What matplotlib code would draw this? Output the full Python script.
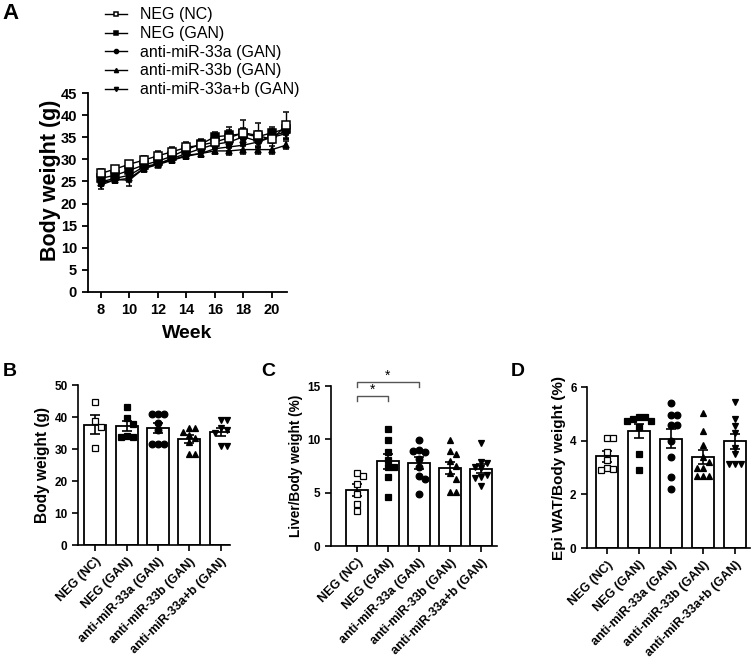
import numpy as np
import matplotlib.pyplot as plt

plt.rcParams['font.family'] = ['Liberation Sans', 'DejaVu Sans']

# ---------------- data ----------------
groups = ["NEG (NC)", "NEG (GAN)", "anti-miR-33a (GAN)", "anti-miR-33b (GAN)", "anti-miR-33a+b (GAN)"]
markers = ["s", "s", "o", "^", "v"]
filled = [False, True, True, True, True]

weeks = list(range(8, 22))
bw_nc = [26.8, 27.8, 28.9, 29.8, 30.8, 31.7, 32.7, 33.2, 33.9, 34.9, 36.0, 35.4, 34.5, 37.7]
bw_gan = [25.7, 26.4, 27.5, 28.7, 29.6, 30.7, 32.2, 33.4, 35.1, 35.4, 35.8, 35.1, 36.0, 36.9]
bw_33a = [24.9, 25.7, 26.4, 28.3, 29.0, 30.2, 31.3, 32.4, 33.4, 33.9, 35.1, 34.1, 35.2, 36.3]
bw_33b = [24.7, 25.3, 25.7, 27.9, 28.8, 29.8, 30.7, 31.3, 31.9, 31.9, 32.2, 32.2, 32.2, 33.2]
bw_33ab = [24.2, 25.4, 25.3, 27.9, 29.0, 29.9, 30.9, 31.3, 32.4, 32.8, 33.2, 33.9, 35.0, 35.8]
sem_nc = [0.9, 0.8, 0.8, 0.9, 1.0, 1.1, 1.2, 1.3, 1.4, 2.3, 2.8, 2.8, 2.4, 3.0]
sem_gan = [0.8, 0.7, 0.8, 0.7, 0.8, 0.8, 0.9, 1.0, 1.1, 1.2, 1.3, 1.3, 1.4, 1.5]
sem_33a = [0.8, 0.7, 0.9, 0.7, 0.7, 0.7, 0.8, 0.9, 1.0, 1.1, 1.2, 1.2, 1.3, 1.4]
sem_33b = [0.8, 0.7, 0.8, 0.6, 0.6, 0.6, 0.7, 0.8, 0.8, 0.9, 0.9, 0.9, 0.9, 0.9]
sem_33ab = [1.0, 0.8, 1.4, 0.7, 0.7, 0.7, 0.8, 0.8, 0.9, 1.0, 1.2, 1.2, 1.2, 1.3]

# panel B: body weight (g)
b_nc = [44.6, 38.8, 37.0, 30.2]
b_gan = [43.2, 39.6, 37.8, 34.2, 33.9, 33.9]
b_33a = [41.0, 41.0, 41.0, 38.0, 36.0, 31.5, 31.5, 31.5]
b_33b = [36.7, 36.5, 35.4, 34.5, 33.6, 32.3, 28.3, 28.3]
b_33ab = [39.0, 39.0, 36.5, 36.0, 35.0, 31.0, 31.0]

# panel C: liver / body weight (%)
c_nc = [6.87, 6.58, 5.8, 4.92, 3.98, 3.26]
c_gan = [11.0, 9.9, 8.8, 8.1, 7.4, 7.4, 6.5, 4.6]
c_33a = [9.9, 9.0, 8.8, 8.9, 8.2, 7.4, 6.6, 6.3, 4.9]
c_33b = [9.9, 8.9, 8.6, 8.0, 7.5, 6.8, 6.3, 5.1, 5.1]
c_33ab = [9.7, 7.9, 7.8, 7.4, 7.3, 6.7, 6.5, 6.4, 5.6]

# panel D: epi WAT / body weight (%)
d_nc = [4.1, 4.1, 3.6, 3.3, 3.0, 2.95, 2.9]
d_gan = [4.9, 4.9, 4.8, 4.75, 4.75, 4.5, 3.5, 2.9]
d_33a = [5.4, 4.95, 4.95, 4.6, 4.6, 4.0, 3.4, 2.65, 2.2]
d_33b = [5.05, 4.35, 3.85, 3.4, 3.2, 3.0, 3.0, 2.7, 2.7, 2.7]
d_33ab = [5.45, 4.8, 4.55, 4.3, 3.75, 3.5, 3.15, 3.15, 3.15]

lines_mean = [bw_nc, bw_gan, bw_33a, bw_33b, bw_33ab]
lines_sem = [sem_nc, sem_gan, sem_33a, sem_33b, sem_33ab]


def swarm(vals, step, tol):
    # simple deterministic beeswarm offsets
    placed = []
    offs = []
    for v in vals:
        near = [o for pv, o in placed if abs(pv - v) < tol]
        k = 0
        while True:
            cand = 0 if k == 0 else step * ((k + 1) // 2) * (1 if k % 2 else -1)
            if all(abs(cand - o) > step * 0.9 for o in near):
                break
            k += 1
        placed.append((v, cand))
        offs.append(cand)
    return offs


def style_axes(ax, lw=1.3):
    for s in ["top", "right"]:
        ax.spines[s].set_visible(False)
    for s in ["left", "bottom"]:
        ax.spines[s].set_linewidth(lw)
    ax.tick_params(width=lw, length=4.5)


fig = plt.figure(figsize=(7.53, 6.62), dpi=100)

# ---------------- panel A ----------------
axA = fig.add_axes([0.1169, 0.559, 0.264, 0.3005])
for i in range(5):
    fc = "black" if filled[i] else "white"
    cont = axA.errorbar(weeks, lines_mean[i], yerr=lines_sem[i], color="black", lw=1.0,
                        marker=markers[i], ms=5.5 if markers[i] == "s" else 4.5, mfc=fc,
                        mec="black", mew=1.1, capsize=2.5, elinewidth=1.0, capthick=1.0,
                        label=groups[i], zorder=6 if i == 0 else 5 - i)
    for art in cont.get_children():
        art.set_clip_on(False)
axA.set_xlim(7.1, 21.05)
axA.set_ylim(0, 45)
axA.set_xticks(range(8, 21, 2))
axA.set_yticks(range(0, 46, 5))
style_axes(axA)
for lab in axA.get_xticklabels() + axA.get_yticklabels():
    lab.set_fontweight("bold")
    lab.set_fontsize(10.5)
axA.set_xlabel("Week", fontsize=14, fontweight="bold", labelpad=6)
axA.set_ylabel("Body weight (g)", fontsize=15.5, fontweight="bold")
axA.yaxis.set_label_coords(-0.135, 0.56)
handles, labels = axA.get_legend_handles_labels()
handles = [h[0] for h in handles]
axA.legend(handles, labels, loc="upper left", bbox_to_anchor=(0.085, 1.43), frameon=False,
           fontsize=11.5, handlelength=1.4, handletextpad=0.8, labelspacing=0.23,
           borderaxespad=0, borderpad=0, markerscale=0.65)

# ---------------- panels B, C, D ----------------
bar_sets = [
    ([b_nc, b_gan, b_33a, b_33b, b_33ab], [0.1036, 0.1767, 0.2018, 0.2417], (-0.55, 4.3), 50, 10,
     "Body weight (g)", 11.2),
    ([c_nc, c_gan, c_33a, c_33b, c_33ab], [0.4396, 0.1752, 0.2204, 0.2417], (-0.84, 4.52), 15, 5,
     "Liver/Body weight (%)", 9.8),
    ([d_nc, d_gan, d_33a, d_33b, d_33ab], [0.7795, 0.172, 0.2165, 0.2432], (-0.63, 4.47), 6, 2,
     "Epi WAT/Body weight (%)", 11),
]

axes_bar = []
for vals, rect, xl, ymax, ystep, ylab, ylab_fs in bar_sets:
    ax = fig.add_axes(rect)
    axes_bar.append(ax)
    x = np.arange(len(groups))
    means = [np.mean(v) for v in vals]
    sems = [np.std(v, ddof=1) / np.sqrt(len(v)) for v in vals]
    ax.bar(x, means, width=0.7, color="white", edgecolor="black", lw=1.3, zorder=1)
    ax.errorbar(x, means, yerr=sems, fmt="none", ecolor="black", elinewidth=1.2,
                capsize=3.5, capthick=1.2, zorder=3)
    for i, v in enumerate(vals):
        offs = swarm(v, 0.19, ymax * 0.04)
        fc = "black" if filled[i] else "white"
        ax.plot(x[i] + np.array(offs), v, ls="none", marker=markers[i], ms=4.8,
                mfc=fc, mec="black", mew=0.9, zorder=4, clip_on=False)
    ax.set_xlim(*xl)
    ax.set_ylim(0, ymax)
    ax.set_yticks(np.arange(0, ymax + 0.01, ystep))
    ax.set_xticks(x)
    ax.set_xticklabels(groups, rotation=45, ha="right", rotation_mode="anchor",
                       fontsize=9, fontweight="bold")
    for lab in ax.get_yticklabels():
        lab.set_fontweight("bold")
        lab.set_fontsize(8.5)
    style_axes(ax, lw=1.2)
    ax.tick_params(length=4)
    ax.set_ylabel(ylab, fontsize=ylab_fs, fontweight="bold", labelpad=3)

# significance brackets on C
axC = axes_bar[1]
br_col = "#555555"
axC.plot([0, 0, 1, 1], [13.6, 14.1, 14.1, 13.6], color=br_col, lw=1.0, clip_on=False)
axC.text(0.5, 14.0, "*", ha="center", va="bottom", fontsize=10, color="black")
axC.plot([0, 0, 2, 2], [14.95, 15.4, 15.4, 14.95], color=br_col, lw=1.0, clip_on=False)
axC.text(1.0, 15.3, "*", ha="center", va="bottom", fontsize=10, color="black")

# panel letters
fig.text(0.003, 0.995, "A", fontsize=16, fontweight="bold", va="top")
fig.text(0.003, 0.452, "B", fontsize=14, fontweight="bold", va="top")
fig.text(0.347, 0.452, "C", fontsize=14, fontweight="bold", va="top")
fig.text(0.678, 0.452, "D", fontsize=14, fontweight="bold", va="top")

fig.savefig("out.png", dpi=100)
